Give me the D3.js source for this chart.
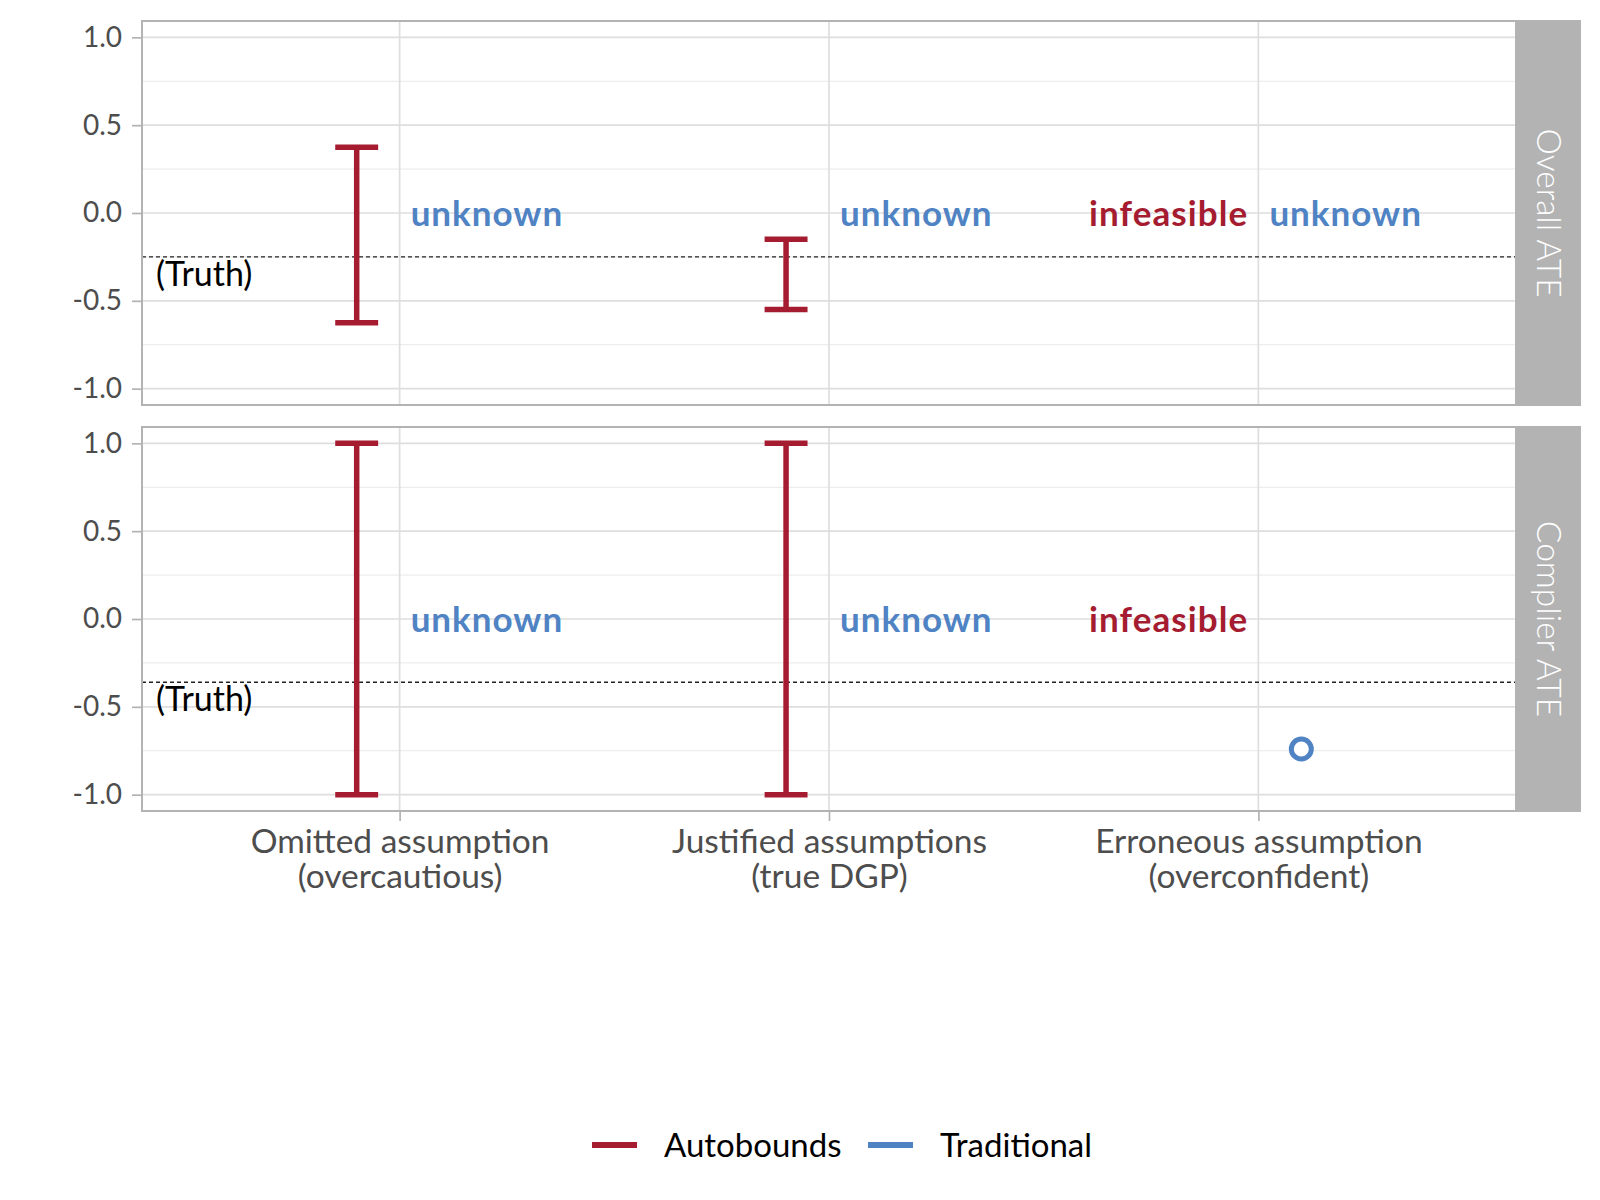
<!DOCTYPE html>
<html>
<head>
<meta charset="utf-8">
<script src="https://cdn.jsdelivr.net/npm/d3@7"></script>
<style>
  html, body { margin: 0; padding: 0; background: #ffffff; }
  svg { display: block; font-family: Lato, "Open Sans", sans-serif; }
</style>
</head>
<body>
<svg id="chart" width="1600" height="1200"></svg>
<script>
// ---------------- data ----------------
const categories = ["Omitted", "Justified", "Erroneous"];
const categoryLine1 = ["Omitted assumption", "Justified assumptions", "Erroneous assumption"];
const categoryLine2 = ["(overcautious)", "(true DGP)", "(overconfident)"];
const facets = ["Overall ATE", "Complier ATE"];
const truthValues = [-0.25, -0.36];
const yTicks = [-1, -0.5, 0, 0.5, 1];
const yMinorTicks = [-0.75, -0.25, 0.25, 0.75];
// Autobounds intervals (null = infeasible)
const autoOverallLow = [-0.625, -0.55, null];
const autoOverallHigh = [0.375, -0.15, null];
const autoComplierLow = [-1, -1, null];
const autoComplierHigh = [1, 1, null];
// Traditional point estimates (null = unknown)
const tradOverall = [null, null, null];
const tradComplier = [null, null, -0.74];
const seriesNames = ["Autobounds", "Traditional"];
const seriesColors = ["#A51C30", "#4F83C4"];

// ---------------- layout ----------------
const svg = d3.select("#chart");
const panelLeft = 142, panelRight = 1516;
const panelTops = [21, 427];
const panelH = 384;
const stripW = 64;

const x = d3.scalePoint().domain(categories).range([panelLeft, panelRight]).padding(0.6);
const step = x.step();
const dodge = 0.1 * step;
const capHalf = 0.05 * step;

const facetData = [
  { low: autoOverallLow, high: autoOverallHigh, trad: tradOverall },
  { low: autoComplierLow, high: autoComplierHigh, trad: tradComplier }
];

const gridColor = "#DEDEDE";
const borderColor = "#B3B3B3";

facets.forEach((facet, fi) => {
  const top = panelTops[fi];
  const y = d3.scaleLinear().domain([-1.093, 1.093]).range([top + panelH, top]);
  const g = svg.append("g");

  // minor grid
  g.selectAll(".minor").data(yMinorTicks).join("line")
    .attr("x1", panelLeft).attr("x2", panelRight)
    .attr("y1", d => y(d)).attr("y2", d => y(d))
    .attr("stroke", "#E8E8E8").attr("stroke-width", 1);
  // major grid y
  g.selectAll(".major").data(yTicks).join("line")
    .attr("x1", panelLeft).attr("x2", panelRight)
    .attr("y1", d => y(d)).attr("y2", d => y(d))
    .attr("stroke", gridColor).attr("stroke-width", 1.7);
  // major grid x
  g.selectAll(".vmajor").data(categories).join("line")
    .attr("x1", d => x(d)).attr("x2", d => x(d))
    .attr("y1", top).attr("y2", top + panelH)
    .attr("stroke", gridColor).attr("stroke-width", 1.7);

  // truth line
  g.append("line")
    .attr("x1", panelLeft).attr("x2", panelRight)
    .attr("y1", y(truthValues[fi])).attr("y2", y(truthValues[fi]))
    .attr("stroke", "#222").attr("stroke-width", 1.3)
    .attr("stroke-dasharray", "4,3");
  g.append("text")
    .attr("x", panelLeft + 14).attr("y", y(truthValues[fi]) + 29)
    .attr("font-size", 34).attr("fill", "#000")
    .text("(Truth)");

  const fd = facetData[fi];
  categories.forEach((c, ci) => {
    const cx = x(c);
    // Autobounds
    if (fd.low[ci] !== null) {
      const xb = cx - dodge;
      const eg = g.append("g").attr("stroke", seriesColors[0]).attr("stroke-width", 5.5);
      eg.append("line").attr("x1", xb).attr("x2", xb)
        .attr("y1", y(fd.low[ci])).attr("y2", y(fd.high[ci]));
      [fd.low[ci], fd.high[ci]].forEach(v => {
        eg.append("line").attr("x1", xb - capHalf).attr("x2", xb + capHalf)
          .attr("y1", y(v)).attr("y2", y(v));
      });
    } else {
      g.append("text").attr("x", cx - 10).attr("y", y(0)).attr("dy", "0.36em")
        .attr("text-anchor", "end").attr("font-weight", 700).attr("font-size", 35)
        .attr("letter-spacing", 1.1)
        .attr("fill", seriesColors[0]).text("infeasible");
    }
    // Traditional
    if (fd.trad[ci] !== null) {
      g.append("circle").attr("cx", cx + dodge).attr("cy", y(fd.trad[ci]))
        .attr("r", 10).attr("fill", "#fff")
        .attr("stroke", seriesColors[1]).attr("stroke-width", 5);
    } else {
      g.append("text").attr("x", cx + 11).attr("y", y(0)).attr("dy", "0.36em")
        .attr("text-anchor", "start").attr("font-weight", 700).attr("font-size", 35)
        .attr("letter-spacing", 1)
        .attr("fill", seriesColors[1]).text("unknown");
    }
  });

  // panel border
  g.append("rect").attr("x", panelLeft).attr("y", top)
    .attr("width", panelRight - panelLeft).attr("height", panelH)
    .attr("fill", "none").attr("stroke", borderColor).attr("stroke-width", 2);

  // strip
  g.append("rect").attr("x", panelRight + 1).attr("y", top - 1)
    .attr("width", stripW).attr("height", panelH + 2)
    .attr("fill", "#B3B3B3");
  g.append("text")
    .attr("transform", `translate(${panelRight + 1 + stripW / 2},${top + panelH / 2}) rotate(90)`)
    .attr("text-anchor", "middle").attr("dy", "0.36em")
    .attr("font-size", 33.5).attr("font-weight", 300).attr("fill", "#fff")
    .text(facet);

  // y axis
  const yAxis = d3.axisLeft(y).tickValues(yTicks).tickSize(10).tickPadding(10)
    .tickFormat(d => d.toFixed(1));
  const ya = svg.append("g").attr("transform", `translate(${panelLeft},0)`).call(yAxis);
  ya.select(".domain").remove();
  ya.selectAll(".tick line").attr("stroke", borderColor).attr("stroke-width", 1.7);
  ya.selectAll(".tick text").attr("font-size", 28).attr("fill", "#4D4D4D")
    .attr("font-family", "Lato, sans-serif");
});

// x axis
const xAxis = d3.axisBottom(x).tickSize(10).tickPadding(8).tickFormat("");
const xa = svg.append("g").attr("transform", `translate(0,${panelTops[1] + panelH})`).call(xAxis);
xa.select(".domain").remove();
xa.selectAll(".tick line").attr("stroke", borderColor).attr("stroke-width", 1.7);
xa.selectAll(".tick").each(function (d, i) {
  const tk = d3.select(this);
  [categoryLine1[i], categoryLine2[i]].forEach((line, li) => {
    tk.append("text")
      .attr("text-anchor", "middle").attr("fill", "#4D4D4D")
      .attr("font-size", 33.5).attr("font-family", "Lato, sans-serif")
      .attr("x", 0).attr("y", 42 + li * 35).text(line);
  });
});

// legend
const legendY = 1145;
const legendItems = [
  { name: seriesNames[0], color: seriesColors[0], x0: 592 },
  { name: seriesNames[1], color: seriesColors[1], x0: 868 }
];
const lg = svg.append("g");
legendItems.forEach(it => {
  lg.append("line").attr("x1", it.x0).attr("x2", it.x0 + 45)
    .attr("y1", legendY).attr("y2", legendY)
    .attr("stroke", it.color).attr("stroke-width", 6);
  lg.append("text").attr("x", it.x0 + 72).attr("y", legendY).attr("dy", "0.36em")
    .attr("font-size", 33).attr("fill", "#000").text(it.name);
});
</script>
</body>
</html>
